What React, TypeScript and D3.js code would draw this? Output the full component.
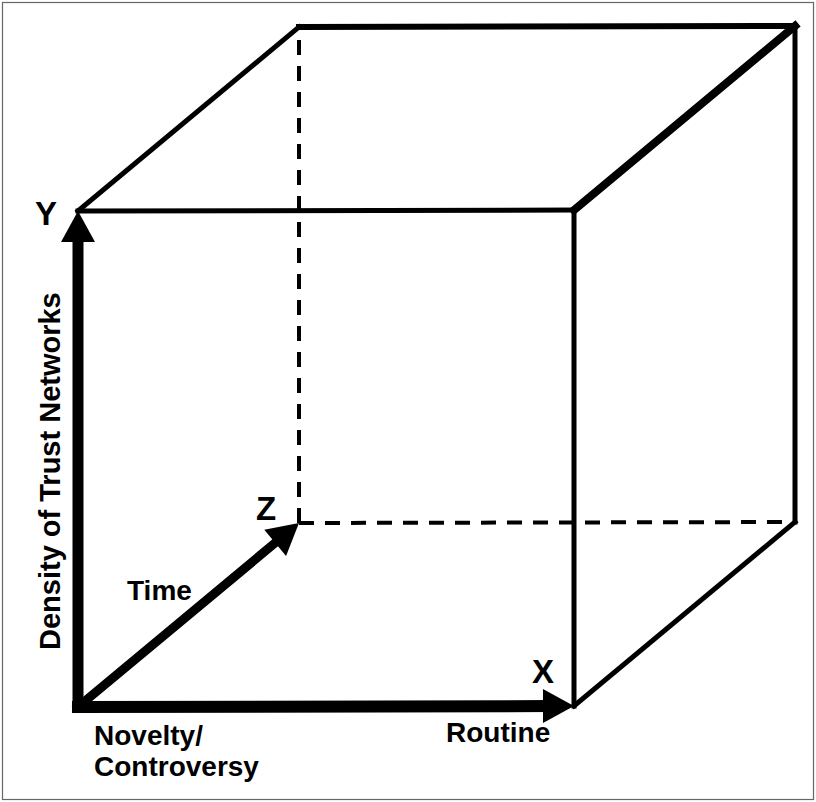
import React, { useEffect } from 'react';
import * as d3 from 'd3';

// cube corners in unit coords [x, y, z]
const cornerNames = ['O', 'X', 'Y', 'XY', 'Z', 'XZ', 'YZ', 'XYZ'];
const cornerCoords = [
  [0, 0, 0], [1, 0, 0], [0, 1, 0], [1, 1, 0],
  [0, 0, 1], [1, 0, 1], [0, 1, 1], [1, 1, 1],
];

// visible cube edges and the hidden (dashed) ones
const solidEdges = [
  ['Y', 'XY'], ['X', 'XY'], ['Y', 'YZ'], ['XY', 'XYZ'],
  ['YZ', 'XYZ'], ['XZ', 'XYZ'], ['X', 'XZ'],
];
const hiddenEdges = [['Z', 'YZ'], ['Z', 'XZ']];

// axes drawn as arrows from the origin
const axisEnds = ['X', 'Y', 'Z'];
const axisLetters = ['X', 'Y', 'Z'];
const axisNames = ['Routine', 'Density of Trust Networks', 'Time'];
const originLabel = ['Novelty/', 'Controversy'];

const W = 816;
const H = 802;

// simple oblique projection
const sx = d3.scaleLinear().domain([0, 1]).range([78, 574]);
const sy = d3.scaleLinear().domain([0, 1]).range([707, 211]);
const zDx = d3.scaleLinear().domain([0, 1]).range([0, 221]);
const zDy = d3.scaleLinear().domain([0, 1]).range([0, -184]);
const xDy = d3.scaleLinear().domain([0, 1]).range([0, -1]);

const project = (name: string): [number, number] => {
  const [x, y, z] = cornerCoords[cornerNames.indexOf(name)];
  return [sx(x) + zDx(z), sy(y) + zDy(z) + xDy(x)];
};

const edgeWidth: Record<string, number> = {
  'XY-XYZ': 8,
  'YZ-XYZ': 6,
};
const axisWidth: Record<string, number> = { X: 12, Y: 11, Z: 9 };

const font = '"Liberation Sans", Arial, Helvetica, sans-serif';

function Arrow({ from, to, width }: { from: [number, number]; to: [number, number]; width: number }) {
  const dx = to[0] - from[0];
  const dy = to[1] - from[1];
  const len = Math.hypot(dx, dy);
  const ux = dx / len;
  const uy = dy / len;
  const headLen = 31;
  const halfW = 17;
  const bx = to[0] - ux * headLen;
  const by = to[1] - uy * headLen;
  const pts: [number, number][] = [
    to,
    [bx - uy * halfW, by + ux * halfW],
    [bx + uy * halfW, by - ux * halfW],
  ];
  return (
    <g>
      <path
        d={d3.line()([from, [bx + ux * 4, by + uy * 4]]) || ''}
        stroke="#000"
        strokeWidth={width}
        strokeLinecap="square"
        fill="none"
      />
      <path d={d3.line()(pts) + 'Z'} fill="#000" />
    </g>
  );
}

export default function App() {
  useEffect(() => {
    document.body.style.margin = '0';
  }, []);

  const origin = project('O');

  return (
    <svg width={W} height={H} style={{ display: 'block', background: '#fff' }}>
      <rect x={2.5} y={2.5} width={W - 5} height={H - 5} fill="none" stroke="#666" strokeWidth={1.2} />

      {hiddenEdges.map(([a, b]) => (
        <path
          key={a + b}
          d={d3.line()([project(a), project(b)]) || ''}
          stroke="#000"
          strokeWidth={4}
          strokeDasharray="15 11"
          fill="none"
        />
      ))}

      {solidEdges.map(([a, b]) => (
        <path
          key={a + b}
          d={d3.line()([project(a), project(b)]) || ''}
          stroke="#000"
          strokeWidth={edgeWidth[a + '-' + b] || 5}
          strokeLinecap="square"
          fill="none"
        />
      ))}

      {axisEnds.map((c, i) => (
        <Arrow key={c} from={origin} to={project(c)} width={axisWidth[axisLetters[i]]} />
      ))}

      <g fontFamily={font} fontWeight="bold" fill="#000">
        <text x={35} y={225} fontSize={33}>{axisLetters[1]}</text>
        <text x={256} y={520} fontSize={33}>{axisLetters[2]}</text>
        <text x={532} y={683} fontSize={33}>{axisLetters[0]}</text>

        <text x={446} y={742} fontSize={28}>{axisNames[0]}</text>
        <text x={127} y={600} fontSize={28}>{axisNames[2]}</text>
        <text
          transform="translate(60,650) rotate(-90)"
          fontSize={29}
        >
          {axisNames[1]}
        </text>

        {originLabel.map((t, i) => (
          <text key={t} x={94} y={745 + i * 31} fontSize={28}>{t}</text>
        ))}
      </g>
    </svg>
  );
}
